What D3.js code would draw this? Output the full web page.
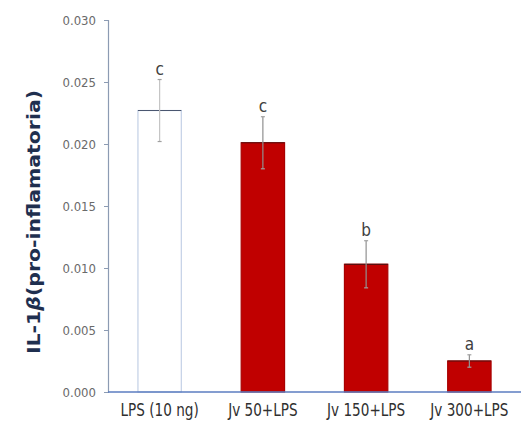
<!DOCTYPE html>
<html>
<head>
<meta charset="utf-8">
<script src="https://cdn.jsdelivr.net/npm/d3@7"></script>
<style>
  html, body { margin: 0; padding: 0; background: #fff; }
  svg { display: block; }
</style>
</head>
<body>
<svg id="chart" width="527" height="442"></svg>
<script>
// Treatment groups and measured IL-1β expression
const categories = ["LPS (10 ng)", "Jv 50+LPS", "Jv 150+LPS", "Jv 300+LPS"];
const means = [0.0227, 0.0201, 0.0103, 0.0025];
const errors = [0.0025, 0.0021, 0.0019, 0.0005];
const letters = ["c", "c", "b", "a"];
const yTicks = [0, 0.005, 0.010, 0.015, 0.020, 0.025, 0.030];

const narrow = "'DejaVu Sans Condensed', 'Liberation Sans Narrow', sans-serif";

const svg = d3.select("#chart");
const plotLeft = 108, plotRight = 521, plotTop = 20, plotBottom = 392;

const x = d3.scaleBand().domain(categories).range([plotLeft, plotRight])
  .paddingInner(0.58).paddingOuter(0.29);
const y = d3.scaleLinear().domain([0, 0.030]).range([plotBottom, plotTop]);

// Y axis
const yAxis = svg.append("g").attr("transform", `translate(${plotLeft},0)`)
  .call(d3.axisLeft(y).tickValues(yTicks).tickFormat(d3.format(".3f")).tickSizeOuter(0).tickSize(4).tickPadding(8));
yAxis.select(".domain").attr("stroke", "#8c9bb3").attr("stroke-width", 1.2);
yAxis.selectAll(".tick line").attr("stroke", "#8c9bb3");
yAxis.selectAll(".tick text").attr("fill", "#6a6a6a")
  .style("font-family", narrow).style("font-size", "13px");

// Bars
const data = categories.map((c, i) => ({ c, m: means[i], e: errors[i], l: letters[i], i }));
svg.append("g").selectAll("rect").data(data).join("rect")
  .attr("x", d => x(d.c))
  .attr("y", d => y(d.m))
  .attr("width", x.bandwidth())
  .attr("height", d => y(0) - y(d.m))
  .attr("fill", d => d.i === 0 ? "#ffffff" : "#c00000")
  .attr("stroke", d => d.i === 0 ? "#c3d0e6" : "#a80000")
  .attr("stroke-width", 1.2);

// Dark top edge on each bar
svg.append("g").selectAll("line").data(data).join("line")
  .attr("x1", d => x(d.c)).attr("x2", d => x(d.c) + x.bandwidth())
  .attr("y1", d => y(d.m)).attr("y2", d => y(d.m))
  .attr("stroke", d => d.i === 0 ? "#4a5670" : "#5a1010").attr("stroke-width", 1.2);

// X axis baseline
svg.append("line").attr("x1", plotLeft).attr("x2", plotRight)
  .attr("y1", y(0)).attr("y2", y(0))
  .attr("stroke", "#5b7cc0").attr("stroke-width", 1.3);

// Error bars
const eb = svg.append("g").selectAll("g").data(data).join("g")
  .attr("transform", d => `translate(${x(d.c) + x.bandwidth() / 2},0)`);
eb.append("line")
  .attr("y1", d => y(d.m + d.e)).attr("y2", d => y(d.m - d.e))
  .attr("stroke", d => d.i === 0 ? "#c4c4c4" : "#909090").attr("stroke-width", 1.2);
eb.append("line").attr("x1", -2).attr("x2", 2)
  .attr("y1", d => y(d.m + d.e)).attr("y2", d => y(d.m + d.e))
  .attr("stroke", "#a0a0a0").attr("stroke-width", 1.2);
eb.append("line").attr("x1", -2).attr("x2", 2)
  .attr("y1", d => y(d.m - d.e)).attr("y2", d => y(d.m - d.e))
  .attr("stroke", "#a0a0a0").attr("stroke-width", 1.2);

// Significance letters
eb.append("text")
  .attr("y", d => y(d.m + d.e) - 5)
  .attr("text-anchor", "middle")
  .attr("fill", "#404040")
  .style("font-family", narrow).style("font-size", "17px")
  .text(d => d.l);

// Category labels, horizontally condensed
svg.append("g").selectAll("text").data(categories).join("text")
  .attr("transform", d => `translate(${x(d) + x.bandwidth() / 2},416) scale(0.84,1)`)
  .attr("text-anchor", "middle")
  .attr("fill", "#303030")
  .style("font-family", narrow).style("font-size", "18px")
  .text(d => d);

// Y-axis title
const title = svg.append("text")
  .attr("transform", "translate(40,222) rotate(-90)")
  .attr("text-anchor", "middle")
  .attr("fill", "#1f2f4f")
  .attr("textLength", 264)
  .attr("lengthAdjust", "spacingAndGlyphs")
  .style("font-family", "'DejaVu Sans', Verdana, sans-serif")
  .style("font-size", "18px").style("font-weight", "bold");
title.append("tspan").text("IL-1");
title.append("tspan").style("font-style", "italic").text("β");
title.append("tspan").text("(pro-inflamatoria)");
</script>
</body>
</html>
